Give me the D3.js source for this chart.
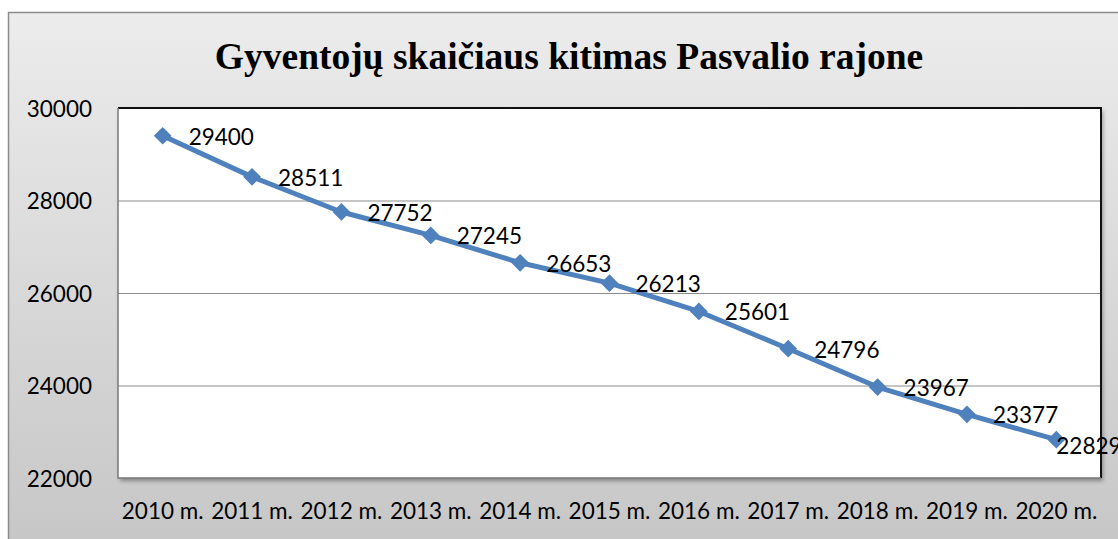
<!DOCTYPE html>
<html lang="lt">
<head>
<meta charset="UTF-8">
<title>Gyventojų skaičiaus kitimas Pasvalio rajone</title>
<script src="https://cdnjs.cloudflare.com/ajax/libs/d3/7.8.5/d3.min.js"></script>
<style>
    body { margin: 0; background: #fff; overflow: hidden; }
    .tick text { font-family: Lato, "Open Sans", sans-serif; font-size: 22.5px; fill: #000; }
    .lbl { font-family: Lato, "Open Sans", sans-serif; font-size: 22.5px; fill: #000; }
</style>
</head>
<body>
<div id="chart"></div>
<script>
    var years = ["2010 m.", "2011 m.", "2012 m.", "2013 m.", "2014 m.", "2015 m.",
                 "2016 m.", "2017 m.", "2018 m.", "2019 m.", "2020 m."];
    var population = [29400, 28511, 27752, 27245, 26653, 26213, 25601, 24796, 23967, 23377, 22829];
    var yTicks = [22000, 24000, 26000, 28000, 30000];
    var title = "Gyventojų skaičiaus kitimas Pasvalio rajone";

    var W = 1118, H = 539;
    var plot = {left: 118, top: 108, right: 1101, bottom: 478};

    var svg = d3.select("#chart").append("svg")
        .attr("width", W).attr("height", H);

    var defs = svg.append("defs");
    var grad = defs.append("linearGradient").attr("id", "bg")
        .attr("x1", 0).attr("y1", 0).attr("x2", 0).attr("y2", 1);
    grad.append("stop").attr("offset", "0%").attr("stop-color", "#ececec");
    grad.append("stop").attr("offset", "100%").attr("stop-color", "#c6c6c6");

    var shadow = defs.append("filter").attr("id", "shadow")
        .attr("x", "-5%").attr("y", "-5%").attr("width", "110%").attr("height", "115%");
    shadow.append("feDropShadow").attr("dx", 2).attr("dy", 3)
        .attr("stdDeviation", 2).attr("flood-color", "#000").attr("flood-opacity", 0.35);

    /* outer chart box */
    svg.append("rect")
        .attr("x", 8.5).attr("y", 12.5)
        .attr("width", 1140).attr("height", 540)
        .attr("fill", "url(#bg)")
        .attr("stroke", "#8a8a8a").attr("stroke-width", 1.5);

    svg.append("text")
        .attr("x", 569).attr("y", 69)
        .attr("text-anchor", "middle")
        .attr("font-family", "'Liberation Serif', 'Times New Roman', serif")
        .attr("font-weight", "bold")
        .attr("font-size", 37.5)
        .text(title);

    var x = d3.scaleBand().domain(years).range([plot.left, plot.right]);
    var y = d3.scaleLinear().domain([22000, 30000]).range([plot.bottom, plot.top]);

    /* plot area */
    svg.append("rect")
        .attr("x", plot.left).attr("y", plot.top)
        .attr("width", plot.right - plot.left).attr("height", plot.bottom - plot.top)
        .attr("fill", "#fff")
        .attr("filter", "url(#shadow)");

    svg.append("g")
        .selectAll("line")
        .data(yTicks.slice(1, -1))
        .enter().append("line")
        .attr("x1", plot.left).attr("x2", plot.right)
        .attr("y1", function(d) { return y(d) + 0.5; })
        .attr("y2", function(d) { return y(d) + 0.5; })
        .attr("stroke", "#8c8c8c").attr("stroke-width", 1.2);

    // borders: top/right dark, left/bottom grey
    svg.append("path")
        .attr("d", "M" + plot.left + "," + plot.top + "H" + plot.right + "V" + plot.bottom)
        .attr("fill", "none").attr("stroke", "#111").attr("stroke-width", 2);
    svg.append("path")
        .attr("d", "M" + plot.left + "," + plot.top + "V" + plot.bottom + "H" + plot.right)
        .attr("fill", "none").attr("stroke", "#7a7a7a").attr("stroke-width", 1.5);

    /* axes */
    var yAxis = svg.append("g")
        .attr("transform", "translate(" + (plot.left - 26) + ",0)")
        .call(d3.axisLeft(y).tickValues(yTicks).tickSize(0).tickPadding(0).tickFormat(d3.format("d")));
    yAxis.select(".domain").remove();
    yAxis.selectAll("text").attr("dy", "0.36em");

    var xAxis = svg.append("g")
        .attr("transform", "translate(0," + plot.bottom + ")")
        .call(d3.axisBottom(x).tickSize(0).tickPadding(0));
    xAxis.select(".domain").remove();
    xAxis.selectAll("text").attr("dy", null).attr("y", 41);

    /* series */
    var pts = years.map(function(d, i) { return {year: d, value: population[i]}; });
    var cx = function(d) { return x(d.year) + x.bandwidth() / 2; };

    svg.append("path")
        .datum(pts)
        .attr("fill", "none")
        .attr("stroke", "#4f81bd")
        .attr("stroke-width", 5)
        .attr("stroke-linejoin", "round")
        .attr("d", d3.line().x(cx).y(function(d) { return y(d.value); }));

    svg.append("g")
        .selectAll("path")
        .data(pts)
        .enter().append("path")
        .attr("d", d3.symbol().type(d3.symbolDiamond2).size(200))
        .attr("transform", function(d) { return "translate(" + cx(d) + "," + y(d.value) + ")"; })
        .attr("fill", "#4f81bd");

    // last label is pushed in by the plot edge, as in the original
    svg.append("g")
        .selectAll("text")
        .data(pts)
        .enter().append("text")
        .attr("class", "lbl")
        .attr("x", function(d, i) { return cx(d) + (i === pts.length - 1 ? 0 : 26); })
        .attr("y", function(d, i) { return y(d.value) + (i === pts.length - 1 ? 5 : 0); })
        .attr("dy", "0.4em")
        .text(function(d) { return d.value; });
</script>
</body>
</html>
